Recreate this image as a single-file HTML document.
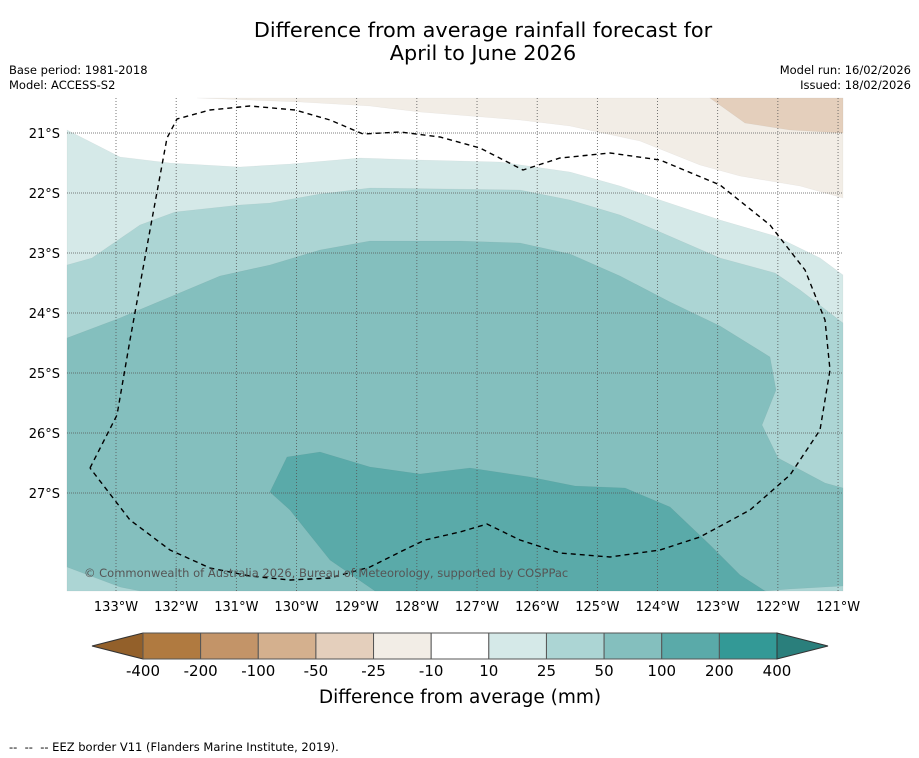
<!DOCTYPE html>
<html><head><meta charset="utf-8"><style>
body{margin:0;background:#fff;font-family:"DejaVu Sans","Liberation Sans",sans-serif;}
#wrap{position:relative;width:919px;height:758px;overflow:hidden;background:#fff}
.t{position:absolute;white-space:nowrap;color:#000}
</style></head><body>
<div id="wrap">
<div class="t" style="left:0;width:966px;top:19px;text-align:center;font-size:20.8px;line-height:23px">Difference from average rainfall forecast for<br>April to June 2026</div>
<div class="t" style="left:9px;top:63px;font-size:11.5px;line-height:15px">Base period: 1981-2018<br>Model: ACCESS-S2</div>
<div class="t" style="right:8px;top:63px;font-size:11.5px;line-height:15px;text-align:right">Model run: 16/02/2026<br>Issued: 18/02/2026</div>
<svg id="map" width="919" height="758" style="position:absolute;left:0;top:0"></svg>
<div class="t" style="left:9px;top:740px;font-size:11.5px">--&nbsp; --&nbsp; -- EEZ border V11 (Flanders Marine Institute, 2019).</div>
</div>
<script>
const lonTicks=[133,132,131,130,129,128,127,126,125,124,123,122,121];
const latTicks=[21,22,23,24,25,26,27];
const cbLabels=["-400","-200","-100","-50","-25","-10","10","25","50","100","200","400"];
const cbColors=["#b07a40","#c39468","#d4b08e","#e4cfbc","#f2ede6","#ffffff","#d5e9e8","#acd5d4","#84bfbe","#5aaaa9","#339996"];
const X0=67,X1=843,Y0=98,Y1=591;
function xs(lon){return 116+(133-lon)*60.17;}
function ys(lat){return 133+(lat-21)*60;}
const svg=document.getElementById('map');
const NS='http://www.w3.org/2000/svg';
function mk(tag,at){const e=document.createElementNS(NS,tag);for(const k in at)e.setAttribute(k,at[k]);svg.appendChild(e);return e;}
const contours=[
 ["contour-dry-light","#f2ede6","197,98 843,98 843,198 800,186 740,176 700,165 640,141 570,126 520,120 420,112 370,106 300,102"],
 ["contour-dry-mid","#e4cfbc","710,98 843,98 843,133 790,130 745,123"],
 ["contour-wet-10","#d5e9e8","67,130 120,157 170,163 240,167 290,164 360,158 420,160 500,162 570,172 620,186 660,200 720,220 775,236 820,258 843,275 843,591 67,591"],
 ["contour-wet-25","#acd5d4","67,265 92,258 140,225 175,212 240,205 270,203 320,194 370,188 520,190 570,200 620,215 660,232 720,258 775,273 800,290 843,323 843,591 67,591"],
 ["contour-wet-50","#84bfbe","67,338 120,318 170,297 220,276 270,265 320,250 370,241 460,241 520,243 570,254 620,276 670,302 720,326 770,357 776,390 762,425 778,458 825,483 843,488 843,586 790,589 765,591 140,591 120,587 67,567"],
 ["contour-wet-100","#5aaaa9","270,492 287,457 320,452 370,467 420,474 470,468 530,477 575,486 625,488 670,507 710,545 740,575 765,591 375,591 330,560 290,510"]
];
contours.forEach(c=>{const p=mk('polygon',{points:c[2],fill:c[1],stroke:'rgba(0,0,0,0.05)','stroke-width':0.6});

});
lonTicks.forEach(l=>{const x=xs(l);
const g=mk('line',{x1:x,x2:x,y1:Y0,y2:Y1,stroke:'#555','stroke-width':0.8,'stroke-dasharray':'1,2'});


const t=mk('text',{x:x,y:611,'font-size':13,'text-anchor':'middle','font-family':'DejaVu Sans, Liberation Sans, sans-serif'});
t.textContent=l+'°W';

});
latTicks.forEach(l=>{const y=ys(l);
const g=mk('line',{x1:X0,x2:X1,y1:y,y2:y,stroke:'#555','stroke-width':0.8,'stroke-dasharray':'1,1'});


const t=mk('text',{x:60,y:y+5,'font-size':13,'text-anchor':'end','font-family':'DejaVu Sans, Liberation Sans, sans-serif'});
t.textContent=l+'°S';

});
const eez=mk('polyline',{points:"90,468 117,415 130,340 150,230 167,138 177,119 210,110 250,106 295,110 330,120 363,134 400,132 440,137 480,148 523,170 560,158 610,153 660,160 720,185 770,225 805,270 825,320 830,370 820,430 790,475 750,510 700,537 660,550 610,557 560,553 520,540 487,524 460,532 425,540 400,552 370,567 330,578 290,580 250,576 210,568 170,550 130,520 90,468",fill:'none',stroke:'#000','stroke-width':1.4,'stroke-dasharray':'5,4'});


const cp=mk('text',{x:84,y:577,'font-size':11.5,fill:'#555','font-family':'DejaVu Sans, Liberation Sans, sans-serif'});
cp.textContent='© Commonwealth of Australia 2026, Bureau of Meteorology, supported by COSPPac';


const cbX=143,cbW=(777-143)/cbColors.length,cbY=633,cbH=26;
const lt=mk('polygon',{points:`92,${cbY+cbH/2} ${cbX},${cbY} ${cbX},${cbY+cbH}`,fill:'#93602a',stroke:'#333','stroke-width':1});


cbColors.forEach((c,i)=>{const r=mk('rect',{x:cbX+i*cbW,y:cbY,width:cbW,height:cbH,fill:c,stroke:'#555','stroke-width':1});

});
const rt=mk('polygon',{points:`${cbX+cbColors.length*cbW},${cbY} 828,${cbY+cbH/2} ${cbX+cbColors.length*cbW},${cbY+cbH}`,fill:'#2a7f7c',stroke:'#333','stroke-width':1});


cbLabels.forEach((l,i)=>{const t=mk('text',{x:cbX+i*cbW,y:676,'font-size':15,'text-anchor':'middle','font-family':'DejaVu Sans, Liberation Sans, sans-serif'});
t.textContent=l;

});
const ct=mk('text',{x:460,y:703,'font-size':18.5,'text-anchor':'middle','font-family':'DejaVu Sans, Liberation Sans, sans-serif'});
ct.textContent='Difference from average (mm)';


</script>
</body></html>
